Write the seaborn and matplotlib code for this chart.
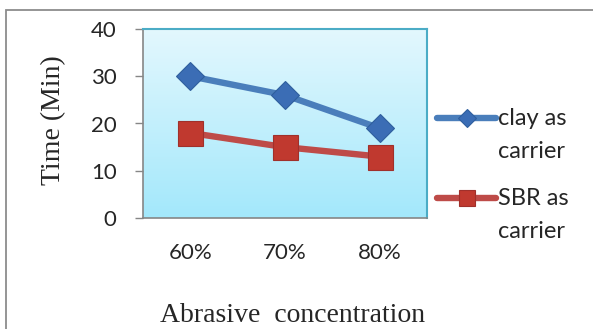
#recreate: abrasive concentration vs time line chart

import numpy as np
import pandas as pd
import matplotlib
matplotlib.use("Agg")
import matplotlib.pyplot as plt
import seaborn as sns
from matplotlib.patches import Rectangle

#data
concentration = ["60%", "70%", "80%"]
clay_time = [30, 26, 19]
sbr_time = [18, 15, 13]
series_names = ["clay as\ncarrier", "SBR as\ncarrier"]
y_ticks = [0, 10, 20, 30, 40]

sns.set_style("white")
plt.rcParams["font.family"] = ["Lato", "DejaVu Sans"]

df = pd.DataFrame({
    "conc": concentration * 2,
    "time": clay_time + sbr_time,
    "series": [series_names[0]] * 3 + [series_names[1]] * 3,
})

fig = plt.figure(figsize=(5.93, 3.29), dpi=100)
fig.patch.set_facecolor("white")
ax = fig.add_axes([143 / 593, 1 - 218 / 329, 284 / 593, 189 / 329])

#gradient plot-area fill (light at top, deeper cyan at bottom)
grad = np.linspace(0, 1, 256)[:, None]
top_c = np.array([0.89, 0.97, 0.995])
bot_c = np.array([0.64, 0.91, 0.985])
img = top_c[None, None, :] * (1 - grad[..., None]) + bot_c[None, None, :] * grad[..., None]
ax.imshow(img, extent=[-0.5, 2.5, 0, 40], aspect="auto", zorder=0)

styles = {
    series_names[0]: dict(color="#4a7ebb", marker="D", ms=14, mfc="#3b6db5", mec="#2f5f9e", leg_ms=9),
    series_names[1]: dict(color="#be4b48", marker="s", ms=18, mfc="#c0392f", mec="#a0302b", leg_ms=11),
}
for name in series_names:
    st = styles[name]
    sns.lineplot(data=df[df["series"] == name], x="conc", y="time", ax=ax,
                 color=st["color"], linewidth=4.6, marker=st["marker"],
                 markersize=st["ms"], markerfacecolor=st["mfc"],
                 markeredgecolor=st["mec"], markeredgewidth=0.8,
                 label=name, zorder=3)

ax.set_xlim(-0.5, 2.5)
ax.set_ylim(0, 40)
ax.set_yticks(y_ticks)
ax.set_xticks(range(len(concentration)))
ax.set_xticklabels(concentration)
ax.set_xticks([-0.5, 0.5, 1.5, 2.5], minor=True)
ax.tick_params(axis="x", which="major", length=0, pad=18, labelsize=16)
ax.tick_params(axis="x", which="minor", length=6, width=1, color="#868686", direction="out")
ax.tick_params(axis="y", which="major", length=6, width=1, color="#868686", direction="out",
               pad=13, labelsize=16, left=True)

for side in ["top", "right"]:
    ax.spines[side].set_color("#4bacc6")
    ax.spines[side].set_linewidth(1.5)
for side in ["left", "bottom"]:
    ax.spines[side].set_color("#868686")
    ax.spines[side].set_linewidth(1.2)

ax.set_xlabel("Abrasive  concentration", family="Liberation Serif", fontsize=20)
ax.set_ylabel("Time (Min)", family="Liberation Serif", fontsize=20)
ax.xaxis.set_label_coords(0.525, -0.45)
ax.yaxis.set_label_coords(-0.27, 0.52)

#legend at right, handle beside first text line
leg = ax.legend(loc="upper left", bbox_to_anchor=(437 / 593, 1 - 108 / 329),
                bbox_transform=fig.transFigure, frameon=False, fontsize=17,
                handlelength=2.5, handletextpad=0.1, labelspacing=1.1,
                borderpad=0, borderaxespad=0, handleheight=1.1)
for t in leg.get_texts():
    t.set_linespacing(1.7)
for h, name in zip(leg.legend_handles, series_names):
    h.set_markersize(styles[name]["leg_ms"])
for col in leg._legend_handle_box.get_children():
    for item in col.get_children():
        item.align = "top"

#outer chart frame (left and top edges visible)
fig.patches.append(Rectangle((6 / 593, -0.1), 1.2, 1 - 10 / 329 + 0.1,
                             transform=fig.transFigure, fill=False,
                             edgecolor="#8c8c8c", linewidth=1.3))

fig.savefig("out.png", dpi=100)
